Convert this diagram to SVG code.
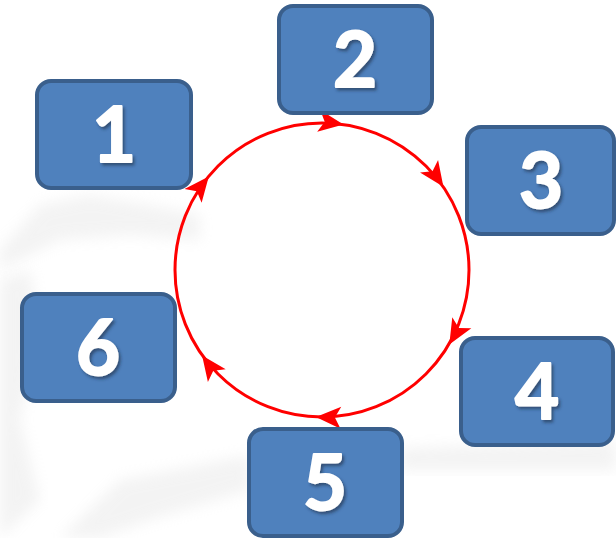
<svg xmlns="http://www.w3.org/2000/svg" width="616" height="538" viewBox="0 0 616 538">
  <style>
    .box { fill: #4F81BD; stroke: #3A5F8C; stroke-width: 4; }
    .num { fill: #FFFFFF; stroke: #FFFFFF; stroke-width: 2; stroke-linejoin: round; font-family: Lato, "Open Sans", "Liberation Sans", sans-serif; font-weight: bold; font-size: 76px; text-anchor: middle; filter: url(#txtShadow); }
    .ring { fill: none; stroke: #FF0000; stroke-width: 3; }
    .head { fill: #FF0000; }
    .haze { fill: #D9D9D9; opacity: 0.3; filter: url(#soft); }
  </style>
  <defs>
    <filter id="txtShadow" x="-30%" y="-30%" width="160%" height="160%">
      <feDropShadow dx="2" dy="2.5" stdDeviation="1.5" flood-color="#1F2F45" flood-opacity="0.6"/>
    </filter>
    <filter id="soft" x="-20%" y="-20%" width="140%" height="140%">
      <feGaussianBlur stdDeviation="7"/>
    </filter>
    <!-- arrowhead with its tip at the origin, pointing along +x -->
    <path id="arrowHead" class="head" d="M0,0 L-25,-11 L-19,0 L-25,11 Z"/>
  </defs>

  <rect width="616" height="538" fill="#FFFFFF"/>

  <!-- faint background landscape -->
  <g id="backdrop">
    <path class="haze" d="M0,250 L40,205 L90,195 L150,205 L200,215 L200,240 L130,235 L60,240 L0,270 Z"/>
    <path class="haze" d="M0,280 L30,270 L40,330 L20,420 L40,500 L0,538 Z"/>
    <path class="haze" d="M120,480 L250,455 L250,490 L150,520 L100,538 L60,538 Z"/>
    <path class="haze" d="M400,448 L616,440 L616,470 L400,470 Z"/>
  </g>

  <!-- cycle ring with direction arrows -->
  <g id="connectors">
    <circle class="ring" cx="322" cy="270" r="147"/>
    <use href="#arrowHead" transform="translate(343.5,124.4) rotate(8)"/>
    <use href="#arrowHead" transform="translate(443.4,186.7) rotate(55)"/>
    <use href="#arrowHead" transform="translate(449.3,344.5) rotate(120)"/>
    <use href="#arrowHead" transform="translate(315.9,416.9) rotate(182)"/>
    <use href="#arrowHead" transform="translate(202.1,355.4) rotate(234)"/>
    <use href="#arrowHead" transform="translate(208.8,176.5) rotate(309)"/>
  </g>

  <g id="node1">
    <rect class="box" x="37" y="81" width="154" height="107" rx="14"/>
    <text class="num" x="114" y="162">1</text>
  </g>
  <g id="node2">
    <rect class="box" x="279" y="6" width="153" height="107" rx="14"/>
    <text class="num" x="355" y="87">2</text>
  </g>
  <g id="node3">
    <rect class="box" x="467" y="127" width="147" height="107" rx="14"/>
    <text class="num" x="541" y="208">3</text>
  </g>
  <g id="node4">
    <rect class="box" x="461" y="338" width="152" height="107" rx="14"/>
    <text class="num" x="537" y="419">4</text>
  </g>
  <g id="node5">
    <rect class="box" x="249" y="429" width="153" height="107" rx="14"/>
    <text class="num" x="325" y="510">5</text>
  </g>
  <g id="node6">
    <rect class="box" x="22" y="294" width="153" height="107" rx="14"/>
    <text class="num" x="98" y="375">6</text>
  </g>
</svg>
